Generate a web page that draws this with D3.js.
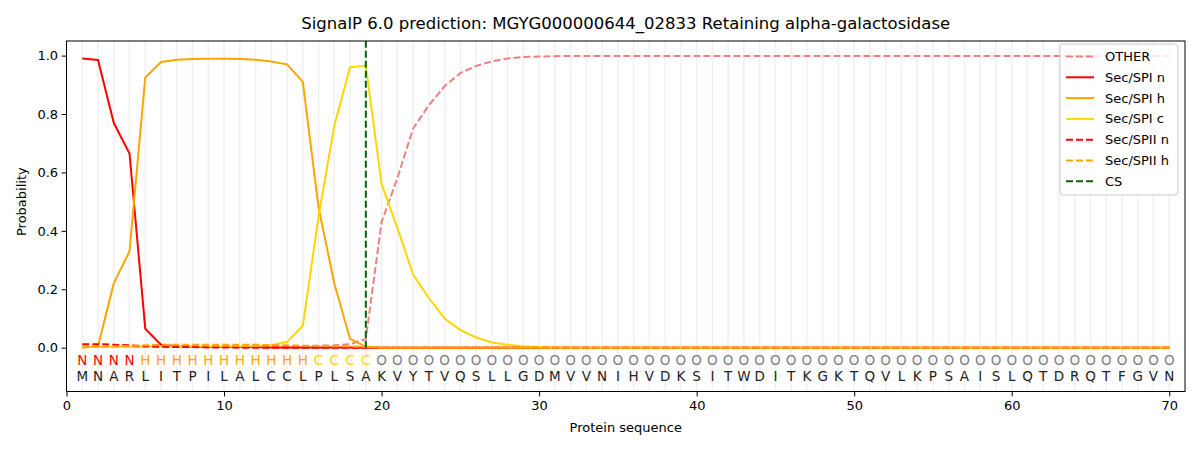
<!DOCTYPE html>
<html>
<head>
<meta charset="utf-8">
<script src="https://cdn.jsdelivr.net/npm/d3@7"></script>
<style>
  body { margin: 0; background: #fff; }
  svg { font-family: "DejaVu Sans", sans-serif; }
</style>
</head>
<body>
<svg id="chart" width="1200" height="450"></svg>
<script>
// residues and per-residue region labels
const sequence = 'MNARLITPILALCCLPLSAKVYTVQSLLGDMVVNIHVDKSITWDITKGKTQVLKPSAISLQTDRQTFGVN'.split('');
const regions = 'NNNNHHHHHHHHHHHCCCCOOOOOOOOOOOOOOOOOOOOOOOOOOOOOOOOOOOOOOOOOOOOOOOOOOO'.split('');

const other = [0.003, 0.003, 0.003, 0.003, 0.003, 0.003, 0.003, 0.003, 0.003, 0.003,
  0.003, 0.003, 0.004, 0.004, 0.005, 0.007, 0.008, 0.012, 0.03, 0.43,
  0.58, 0.75, 0.83, 0.895, 0.94, 0.965, 0.98, 0.99, 0.995, 0.997,
  0.998, 0.999, 0.999, 0.999, 0.999, 0.999, 0.999, 0.999, 0.999, 0.999,
  0.999, 0.999, 0.999, 0.999, 0.999, 0.999, 0.999, 0.999, 0.999, 0.999,
  0.999, 0.999, 0.999, 0.999, 0.999, 0.999, 0.999, 0.999, 0.999, 0.999,
  0.999, 0.999, 0.999, 0.999, 0.999, 0.999, 0.999, 0.999, 0.999, 0.999];
const spiN = [0.99, 0.985, 0.77, 0.665, 0.065, 0.01, 0.005, 0.003, 0.002, 0.002,
  0.002, 0.002, 0.001, 0.001, 0.001, 0.001, 0.001, 0.001, 0, 0];
const spiH = [0.0, 0.005, 0.22, 0.33, 0.925, 0.978, 0.986, 0.988, 0.989, 0.989,
  0.988, 0.986, 0.98, 0.97, 0.91, 0.48, 0.22, 0.03, 0.003, 0];
const spiC = [0.003, 0.003, 0.003, 0.003, 0.004, 0.004, 0.004, 0.004, 0.004, 0.004,
  0.005, 0.006, 0.008, 0.02, 0.075, 0.45, 0.76, 0.96, 0.965, 0.56,
  0.41, 0.25, 0.17, 0.10, 0.06, 0.035, 0.018, 0.01, 0.005, 0.002];
const spiiN = [0.012, 0.012, 0.01, 0.008, 0.005, 0.003, 0.002, 0.002, 0.001, 0.001];
const spiiH = [0.003, 0.004, 0.005, 0.006, 0.008, 0.01, 0.01, 0.01, 0.01, 0.01,
  0.01, 0.01, 0.009, 0.008, 0.007, 0.006, 0.005, 0.004, 0.002, 0];
const csPos = 19;

const xTicks = [0, 10, 20, 30, 40, 50, 60, 70];
const yTicks = [0, 0.2, 0.4, 0.6, 0.8, 1.0];

const regionColor = { N: 'red', H: 'orange', C: 'gold', O: 'grey' };

// pad a short series with zeros to full sequence length
function full(vals) {
  return sequence.map((_, i) => (i < vals.length ? vals[i] : 0));
}

const series = [
  { name: 'OTHER', values: full(other), color: '#f08080', dash: '7,3' },
  { name: 'Sec/SPI n', values: full(spiN), color: 'red', dash: null },
  { name: 'Sec/SPI h', values: full(spiH), color: 'orange', dash: null },
  { name: 'Sec/SPI c', values: full(spiC), color: 'gold', dash: null },
  { name: 'Sec/SPII n', values: full(spiiN), color: 'red', dash: '7,3' },
  { name: 'Sec/SPII h', values: full(spiiH), color: 'orange', dash: '7,3' }
];

const svg = d3.select('#chart');
const margin = { left: 66.5, right: 15, top: 41, bottom: 58.5 };
const width = 1200 - margin.left - margin.right;
const height = 450 - margin.top - margin.bottom;

const x = d3.scaleLinear().domain([0, 71]).range([0, width]);
const y = d3.scaleLinear().domain([-0.15, 1.05]).range([height, 0]);

const g = svg.append('g').attr('transform', `translate(${margin.left},${margin.top})`);

// light vertical guides at every residue
g.append('g')
  .selectAll('line')
  .data(sequence)
  .enter().append('line')
  .attr('x1', (d, i) => x(i + 1))
  .attr('x2', (d, i) => x(i + 1))
  .attr('y1', 0)
  .attr('y2', height)
  .attr('stroke', '#f0f0f0')
  .attr('stroke-width', 1.5);

const line = d3.line()
  .x((d, i) => x(i + 1))
  .y(d => y(d));

g.selectAll('path.series')
  .data(series)
  .enter().append('path')
  .attr('class', 'series')
  .attr('d', d => line(d.values))
  .attr('fill', 'none')
  .attr('stroke', d => d.color)
  .attr('stroke-width', 2)
  .attr('stroke-dasharray', d => d.dash);

// cleavage site
g.append('line')
  .attr('x1', x(csPos)).attr('x2', x(csPos))
  .attr('y1', y(0)).attr('y2', 0)
  .attr('stroke', 'darkgreen')
  .attr('stroke-width', 2)
  .attr('stroke-dasharray', '7,3');

// region letters and residues
g.append('g').selectAll('text')
  .data(regions)
  .enter().append('text')
  .attr('x', (d, i) => x(i + 1))
  .attr('y', y(-0.05) + 3)
  .attr('text-anchor', 'middle')
  .attr('font-size', 13.5)
  .attr('fill', d => regionColor[d])
  .text(d => d);

g.append('g').selectAll('text')
  .data(sequence)
  .enter().append('text')
  .attr('x', (d, i) => x(i + 1))
  .attr('y', y(-0.105) + 3)
  .attr('text-anchor', 'middle')
  .attr('font-size', 13.5)
  .attr('fill', '#222')
  .text(d => d);

// axes
const xAxis = g.append('g')
  .attr('transform', `translate(0,${height})`)
  .call(d3.axisBottom(x).tickValues(xTicks).tickSize(4.9).tickPadding(4.5));
const yAxis = g.append('g')
  .call(d3.axisLeft(y).tickValues(yTicks).tickFormat(d3.format('.1f')).tickSize(4.9).tickPadding(3.5));
[xAxis, yAxis].forEach(a => {
  a.selectAll('text').attr('font-size', 13).attr('fill', '#000').attr('font-family', '"DejaVu Sans", sans-serif');
  a.selectAll('line').attr('stroke', '#000');
  a.select('.domain').remove();
});

// frame
g.append('rect')
  .attr('width', width).attr('height', height)
  .attr('fill', 'none').attr('stroke', '#000').attr('stroke-width', 1);

svg.append('text')
  .attr('x', margin.left + width / 2).attr('y', 29)
  .attr('text-anchor', 'middle').attr('font-size', 16.5)
  .text('SignalP 6.0 prediction: MGYG000000644_02833 Retaining alpha-galactosidase');

svg.append('text')
  .attr('x', margin.left + width / 2).attr('y', 432)
  .attr('text-anchor', 'middle').attr('font-size', 13)
  .text('Protein sequence');

svg.append('text')
  .attr('transform', `translate(26,${margin.top + y(0.5)}) rotate(-90)`)
  .attr('text-anchor', 'middle').attr('font-size', 13)
  .text('Probability');

// legend
const legendItems = series.concat([{ name: 'CS', color: 'darkgreen', dash: '7,3' }]);
const lg = svg.append('g').attr('transform', 'translate(1060,44)');
lg.append('rect')
  .attr('width', 118).attr('height', 151).attr('rx', 3)
  .attr('fill', 'rgba(255,255,255,0.8)').attr('stroke', '#ccc');
const item = lg.selectAll('g.item')
  .data(legendItems)
  .enter().append('g')
  .attr('transform', (d, i) => `translate(0,${12.5 + i * 20.8})`);
item.append('line')
  .attr('x1', 6).attr('x2', 34)
  .attr('stroke', d => d.color).attr('stroke-width', 2)
  .attr('stroke-dasharray', d => d.dash);
item.append('text')
  .attr('x', 45).attr('y', 4.5)
  .attr('font-size', 13)
  .text(d => d.name);
</script>
</body>
</html>
